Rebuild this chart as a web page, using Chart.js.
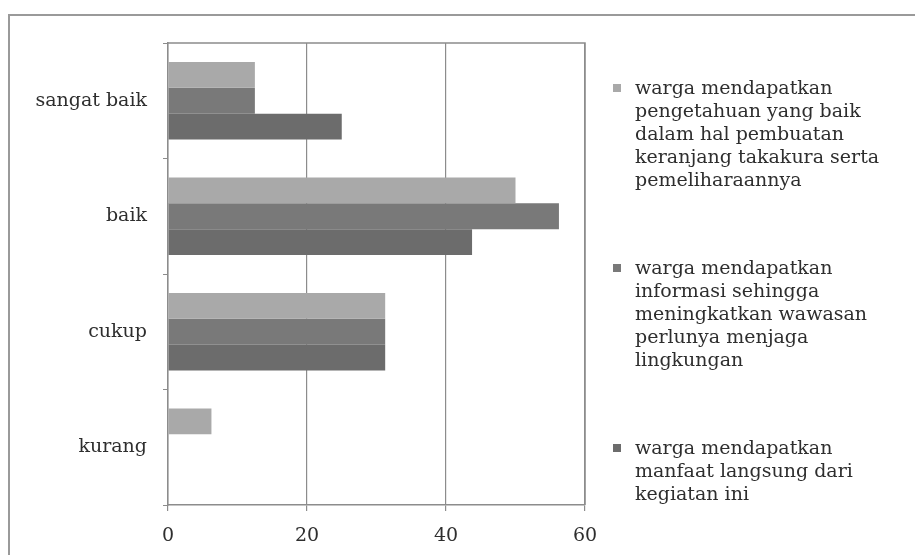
<!DOCTYPE html>
<html>
<head>
<meta charset="utf-8">
<script src="https://cdn.jsdelivr.net/npm/chart.js@4"></script>
<style>
  html, body { margin: 0; padding: 0; background: #fff; }
  body { width: 915px; height: 555px; position: relative; overflow: hidden; font-family: "DejaVu Serif", serif; }
  #frame { position: absolute; left: 8px; top: 14px; width: 920px; height: 560px; border-left: 2px solid #9a9a9a; border-top: 2px solid #9a9a9a; }
  #chart { position: absolute; left: 0; top: 0; }
  #legend { position: absolute; left: 611px; top: 76px; margin: 0; padding: 0; list-style: none; }
  #legend li { position: relative; width: 258px; padding-left: 24px; margin-bottom: 65px; font-size: 19px; line-height: 23px; color: #2e2e2e; }
  #legend .box { position: absolute; left: 2px; top: 8px; width: 8px; height: 8px; }
</style>
</head>
<body>
<div id="frame"></div>
<canvas id="chart" width="915" height="555"></canvas>
<ul id="legend"></ul>
<script>
const categories = ["sangat baik", "baik", "cukup", "kurang"];
const seriesNames = [
  "warga mendapatkan pengetahuan yang baik dalam hal pembuatan keranjang takakura serta pemeliharaannya",
  "warga mendapatkan informasi sehingga meningkatkan wawasan perlunya menjaga lingkungan",
  "warga mendapatkan manfaat langsung dari kegiatan ini"
];
const pengetahuan = [12.5, 50, 31.25, 6.25];
const informasi = [12.5, 56.25, 31.25, 0];
const manfaat = [25, 43.75, 31.25, 0];
const xTicks = [0, 20, 40, 60];
const seriesColors = ["#a9a9a9", "#797979", "#6c6c6c"];

const axisColor = "#8c8c8c";
const textColor = "#2e2e2e";
const labelFont = { family: "DejaVu Serif", size: 19 };

// top and right edges of the plot box
const plotFrame = {
  id: "plotFrame",
  afterDatasetsDraw(chart) {
    const { ctx, chartArea: a } = chart;
    ctx.save();
    ctx.strokeStyle = axisColor;
    ctx.lineWidth = 1.5;
    ctx.beginPath();
    ctx.moveTo(a.left, a.top);
    ctx.lineTo(a.right, a.top);
    ctx.lineTo(a.right, a.bottom);
    ctx.stroke();
    ctx.restore();
  }
};

const chart = new Chart(document.getElementById("chart"), {
  type: "bar",
  data: {
    labels: categories,
    datasets: [pengetahuan, informasi, manfaat].map((values, i) => ({
      label: seriesNames[i],
      data: values,
      backgroundColor: seriesColors[i],
      borderWidth: 0,
      barPercentage: 1,
      categoryPercentage: 0.67
    }))
  },
  options: {
    indexAxis: "y",
    responsive: false,
    animation: false,
    layout: { padding: { left: 0, top: 43, right: 330, bottom: 0 } },
    plugins: {
      legend: { display: false },
      tooltip: { enabled: false }
    },
    scales: {
      x: {
        min: 0,
        max: 60,
        afterBuildTicks: s => { s.ticks = xTicks.map(v => ({ value: v })); },
        afterFit: s => { s.height = 50; },
        grid: { color: axisColor, lineWidth: 1.2, tickLength: 6 },
        border: { color: axisColor, width: 1.5 },
        ticks: { color: textColor, font: labelFont, padding: 14 }
      },
      y: {
        afterFit: s => { s.width = 168; },
        grid: { offset: true, drawOnChartArea: false, color: axisColor, tickLength: 5 },
        border: { color: axisColor, width: 1.5 },
        ticks: { color: textColor, font: labelFont, padding: 16 }
      }
    }
  },
  plugins: [plotFrame]
});

document.getElementById("legend").innerHTML = chart.data.datasets
  .map(ds => `<li><span class="box" style="background:${ds.backgroundColor}"></span>${ds.label}</li>`)
  .join("");
</script>
</body>
</html>
